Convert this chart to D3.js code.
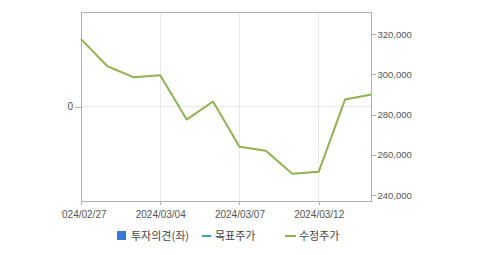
<!DOCTYPE html>
<html>
<head>
<meta charset="utf-8">
<script src="https://cdn.jsdelivr.net/npm/d3@7"></script>
<style>
  body { margin: 0; background: #fff; }
  svg text { font-family: "Liberation Sans", Arial, sans-serif; fill: #555; }
  .legend text { font-family: "Noto Sans CJK KR", sans-serif; font-size: 11px; fill: #444; }
</style>
</head>
<body>
<svg id="chart" width="479" height="255"></svg>
<script>
// trading days shown on the x axis (categorical, holidays skipped)
var dates = ["2024/02/27", "2024/02/28", "2024/02/29", "2024/03/04", "2024/03/05", "2024/03/06",
             "2024/03/07", "2024/03/08", "2024/03/11", "2024/03/12", "2024/03/13", "2024/03/14"];
var tickDates = ["2024/02/27", "2024/03/04", "2024/03/07", "2024/03/12"];
// 수정주가 (adjusted price)
var prices = [317500, 304000, 298500, 299500, 277500, 286500,
              264000, 262000, 250500, 251500, 287500, 290000];
var priceTicks = [240000, 260000, 280000, 300000, 320000];
var opinionTicks = [0];
var legendNames = ["투자의견(좌)", "목표주가", "수정주가"];

var margin = {top: 12, left: 81, right: 107.5, bottom: 54};
var width = 479 - margin.left - margin.right,
    height = 255 - margin.top - margin.bottom;

var svg = d3.select("#chart");

// the original chart cuts off the first date label at the left
svg.append("defs").append("clipPath").attr("id", "xclip")
  .append("rect").attr("x", 61.5 - margin.left).attr("y", -10).attr("width", 479).attr("height", 60);

var g = svg.append("g").attr("transform", "translate(" + margin.left + "," + margin.top + ")");

var x = d3.scalePoint().domain(dates).range([0, width]);
var y = d3.scaleLinear().domain([237000, 331000]).range([height, 0]);
var yLeft = d3.scaleLinear().domain([-1, 1]).range([height, 0]);

// grid lines
g.selectAll(".vgrid").data(tickDates).enter().append("line")
  .attr("x1", function(d) { return x(d); }).attr("x2", function(d) { return x(d); })
  .attr("y1", 0).attr("y2", height)
  .attr("stroke", "#e8e8e8").attr("shape-rendering", "crispEdges");
g.selectAll(".hgrid").data(opinionTicks).enter().append("line")
  .attr("x1", 0).attr("x2", width)
  .attr("y1", function(d) { return yLeft(d); }).attr("y2", function(d) { return yLeft(d); })
  .attr("stroke", "#e8e8e8").attr("shape-rendering", "crispEdges");

// frame
g.append("rect").attr("x", 0).attr("y", 0).attr("width", width).attr("height", height)
  .attr("fill", "none").attr("stroke", "#b0b0b0").attr("shape-rendering", "crispEdges");

function styleAxis(sel, size) {
  sel.select(".domain").remove();
  sel.selectAll(".tick line").attr("stroke", "#b0b0b0").attr("shape-rendering", "crispEdges");
  sel.selectAll(".tick text").attr("fill", "#555").style("font-size", size + "px")
    .style("font-family", "'Liberation Sans', Arial, sans-serif");
}

var xAxis = g.append("g").attr("transform", "translate(0," + height + ")")
  .attr("clip-path", "url(#xclip)")
  .call(d3.axisBottom(x).tickValues(tickDates).tickSize(4).tickPadding(6));
styleAxis(xAxis, 10);

var rAxis = g.append("g").attr("transform", "translate(" + width + ",0)")
  .call(d3.axisRight(y).tickValues(priceTicks).tickSize(4).tickPadding(2)
    .tickFormat(d3.format(",")));
styleAxis(rAxis, 9.5);

var lAxis = g.append("g")
  .call(d3.axisLeft(yLeft).tickValues(opinionTicks).tickSize(6).tickPadding(2)
    .tickFormat(d3.format("d")));
styleAxis(lAxis, 10);

// price line
var line = d3.line()
  .x(function(d, i) { return x(dates[i]); })
  .y(function(d) { return y(d); });
g.append("path").datum(prices)
  .attr("d", line)
  .attr("fill", "none")
  .attr("stroke", "#8db44f")
  .attr("stroke-width", 2)
  .attr("stroke-linejoin", "round");

// legend
var legend = svg.append("g").attr("class", "legend");
legend.append("rect").attr("x", 117).attr("y", 231).attr("width", 9).attr("height", 9).attr("fill", "#3a78d8");
legend.append("text").attr("x", 131).attr("y", 240).text(legendNames[0]);
legend.append("line").attr("x1", 202).attr("x2", 211).attr("y1", 236).attr("y2", 236)
  .attr("stroke", "#3aa8b8").attr("stroke-width", 2);
legend.append("text").attr("x", 215).attr("y", 240).text(legendNames[1]);
legend.append("line").attr("x1", 285).attr("x2", 296).attr("y1", 236).attr("y2", 236)
  .attr("stroke", "#8db44f").attr("stroke-width", 2);
legend.append("text").attr("x", 299).attr("y", 240).text(legendNames[2]);
</script>
</body>
</html>
